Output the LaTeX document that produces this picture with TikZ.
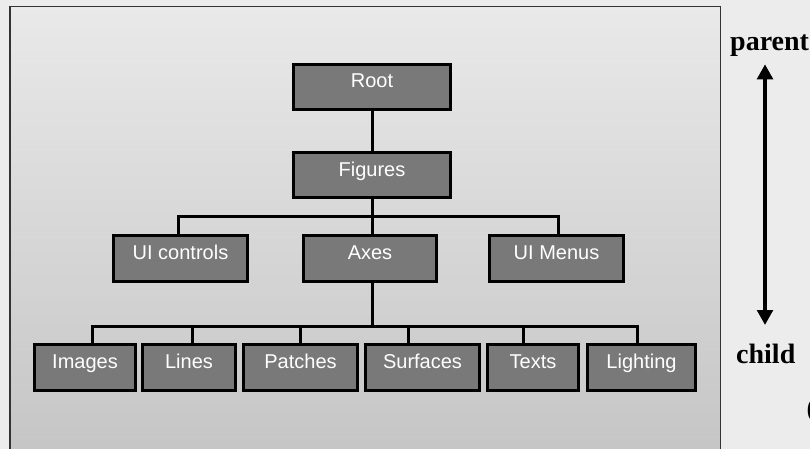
\documentclass[tikz,border=0pt]{standalone}
\usepackage{fontspec}
\setmainfont{Liberation Serif}
\newfontfamily\boxfont{Liberation Sans}
\usetikzlibrary{arrows.meta,calc}
\definecolor{bgout}{HTML}{ECECEC}
\definecolor{paneltop}{HTML}{E9E9E9}
\definecolor{panelbot}{HTML}{C4C4C4}
\definecolor{boxfill}{HTML}{797979}
\definecolor{panelline}{HTML}{333333}
\pgfdeclarelayer{back}
\pgfdeclarelayer{mid}
\pgfsetlayers{back,mid,main}
\tikzset{
  boxst/.style={draw=black, line width=3pt, fill=boxfill, inner sep=0pt, rectangle},
  boxtxt/.style={anchor=base, inner sep=0pt, text=white, font=\boxfont\fontsize{20}{21}\selectfont},
  conn/.style={draw=black, line width=3pt, line join=miter},
  sidelbl/.style={inner sep=0pt, anchor=base west, font=\bfseries\fontsize{28}{30}\selectfont},
  biarrow/.style={line width=4.5pt, {Triangle[length=15pt,width=15.5pt]}-{Triangle[length=15pt,width=15.5pt]}}
}
\newcommand\mybox[6]{%
  \node[boxst, minimum width={#4-#2-3}, minimum height={#5-#3-3}] (#1) at ({(#2+#4)/2},{(#3+#5)/2}) {};
  \node[boxtxt] (#1t) at ({(#2+#4)/2},{#3+25}) {#6};
}
\begin{document}
\begin{tikzpicture}[x=1pt,y=-1pt]
\useasboundingbox (0,0) rectangle (810,449);
\begin{pgfonlayer}{back}
\fill[bgout] (0,0) rectangle (810,449);
\shade[top color=paneltop, bottom color=panelbot] (10,6.5) rectangle (720.8,470);
\draw[panelline, line width=1.3pt] (10,470) -- (10,6.5) -- (720.8,6.5) -- (720.8,470);
\end{pgfonlayer}
% junction coordinates
\coordinate (b2) at (372.2,216.7);
\coordinate (b2l) at (178.3,216.7);
\coordinate (b2r) at (558.5,216.7);
\coordinate (b3) at (372.2,326);
\coordinate (jIm) at (92.5,326);
\coordinate (jLi) at (192.7,326);
\coordinate (jPa) at (300.7,326);
\coordinate (jSu) at (408.5,326);
\coordinate (jTe) at (523.3,326);
\coordinate (jLg) at (637.7,326);
% boxes (outer extents)
\mybox{Root}{292}{63}{452}{111}{Root}
\mybox{Figures}{292}{151}{452}{199}{Figures}
\mybox{UIc}{112}{234}{249}{283}{UI controls}
\mybox{Axes}{302}{234}{438}{283}{Axes}
\mybox{UIm}{488}{234}{625}{283}{UI Menus}
\mybox{Images}{33}{343}{137}{392}{Images}
\mybox{Lines}{141}{343}{237}{392}{Lines}
\mybox{Patches}{242}{343}{359}{392}{Patches}
\mybox{Surfaces}{364}{343}{481}{392}{Surfaces}
\mybox{Texts}{486}{343}{580}{392}{Texts}
\mybox{Lighting}{586}{343}{697}{392}{Lighting}
% connectors (behind boxes)
\begin{pgfonlayer}{mid}
\draw[conn] (Root.south -| b2) -- (Figures.north -| b2);
\draw[conn] (Figures.south -| b2) -- (b2);
\draw[conn] (b2l |- UIc.north) -- (b2l) -- (b2r) -- (b2r |- UIm.north);
\draw[conn] (b2) -- (Axes.north -| b2);
\draw[conn] (Axes.south -| b3) -- (b3);
\draw[conn] (jIm |- Images.north) -- (jIm) -- (jLg) -- (jLg |- Lighting.north);
\draw[conn] (jLi) -- (jLi |- Lines.north);
\draw[conn] (jPa) -- (jPa |- Patches.north);
\draw[conn] (jSu) -- (jSu |- Surfaces.north);
\draw[conn] (jTe) -- (jTe |- Texts.north);
\end{pgfonlayer}
% side labels and arrow
\node[sidelbl] (parent) at (730,51) {parent};
\node[sidelbl] (child) at (736,363) {child};
\node[sidelbl] (paren) at (806.5,417) {(};
\coordinate (aT) at (765,64.3);
\coordinate (aB) at (765,325);
\draw[biarrow] (aT) -- (aB);
\end{tikzpicture}
\end{document}
